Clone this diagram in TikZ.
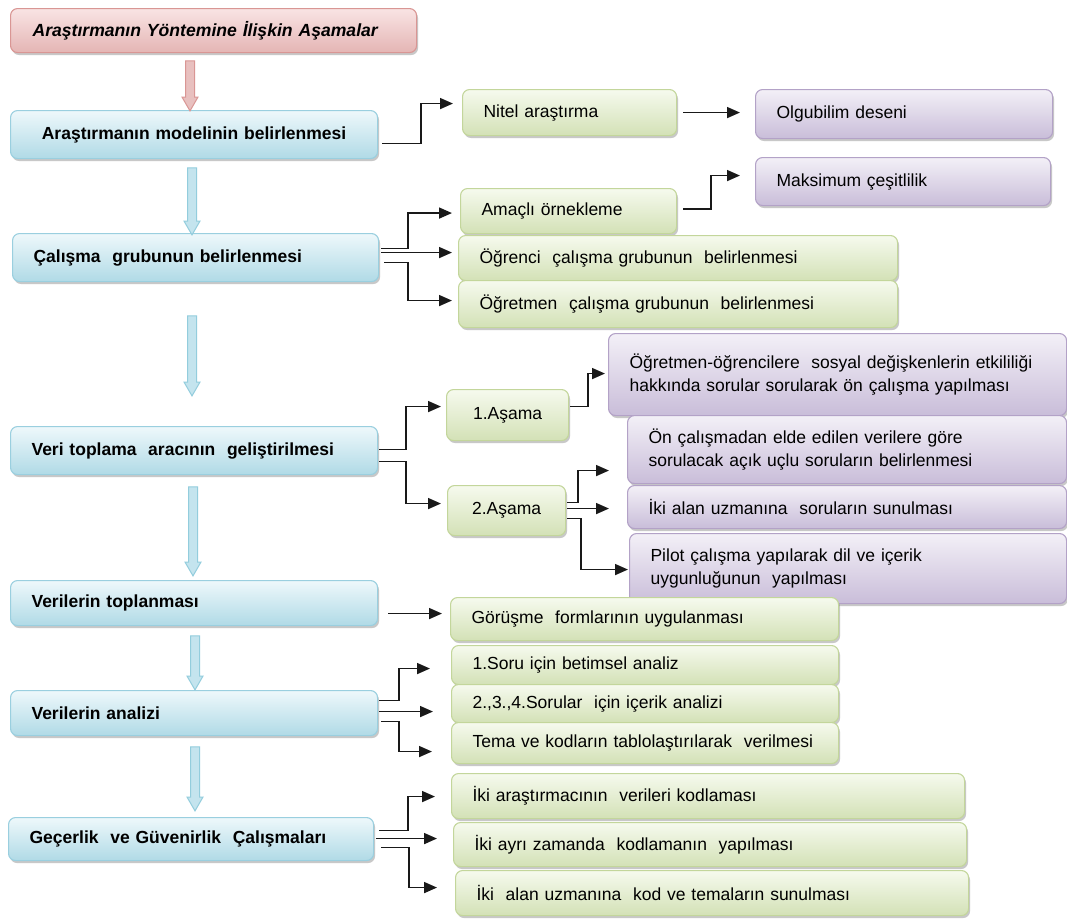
\documentclass[tikz,border=0pt]{standalone}
\usepackage{fontspec}
\setmainfont{Liberation Sans}
\usetikzlibrary{arrows.meta,shapes.arrows,shadows,calc}
\definecolor{btop}{HTML}{EEF8FB}
\definecolor{bbot}{HTML}{B0DAE6}
\definecolor{bbord}{HTML}{9ACFDF}
\definecolor{gtop}{HTML}{F6FAEE}
\definecolor{gbot}{HTML}{D3E1B6}
\definecolor{gbord}{HTML}{C3D69B}
\definecolor{ptop}{HTML}{F3F0F7}
\definecolor{pbot}{HTML}{C9BDD9}
\definecolor{pbord}{HTML}{B3A2C7}
\definecolor{rtop}{HTML}{F9E4E4}
\definecolor{rbot}{HTML}{E4B5B4}
\definecolor{rbord}{HTML}{D99694}
\definecolor{afill}{HTML}{C4E4EE}
\definecolor{abord}{HTML}{93CDDD}
\tikzset{
  box/.style={draw, rounded corners=7pt, line width=1.1pt, anchor=north west,
    inner xsep=21pt, inner ysep=0pt, align=left,
    font=\fontsize{17.5}{23}\selectfont,
    drop shadow={shadow xshift=1.5pt, shadow yshift=-2.5pt, opacity=0.3, fill=black!70}},
  gbox/.style={box, draw=gbord, top color=gtop, bottom color=gbot},
  pbox/.style={box, draw=pbord, top color=ptop, bottom color=pbot},
  bbox/.style={box, draw=bbord, top color=btop, bottom color=bbot, inner xsep=20pt,
    font=\fontsize{17.5}{23}\selectfont\bfseries},
  tbox/.style={box, draw=rbord, top color=rtop, bottom color=rbot, inner xsep=22pt,
    font=\fontsize{17.6}{23}\selectfont\bfseries\itshape},
  cen/.style={align=center},
  conn/.style={draw=black!90, line width=1.7pt, -{Triangle[length=13pt,width=11pt]}},
  harrow/.style={single arrow, rotate=-90, minimum width=15pt, inner xsep=0pt, inner ysep=4pt,
    single arrow head extend=3.5pt, single arrow tip angle=60, line width=1pt,
    draw=abord, fill=afill},
  parrow/.style={harrow, draw=rbord, fill=rbot!85},
}
\newcommand\mkbox[7]{%
  \pgfmathsetmacro\bw{#5-#3}\pgfmathsetmacro\bh{#6-#4}\pgfmathsetmacro\tw{#5-#3-42}%
  \node[#1, minimum width=\bw pt, minimum height=\bh pt, text width=\tw pt] (#2) at (#3,#4) {#7};}
\begin{document}
\begin{tikzpicture}[x=1pt,y=-1pt]
\useasboundingbox[fill=white] (0,0) rectangle (1067,918);
% main column
\mkbox{tbox}{title}{10}{8}{414}{52}{Araştırmanın Yöntemine İlişkin Aşamalar}
\mkbox{bbox,cen}{m1}{10}{110}{377}{158}{Araştırmanın modelinin belirlenmesi}
\mkbox{bbox}{m2}{12}{233}{378}{281}{Çalışma~ grubunun belirlenmesi}
\mkbox{bbox}{m3}{10}{426}{377}{474}{Veri toplama~ aracının~ geliştirilmesi}
\mkbox{bbox}{m4}{10}{580}{377}{625}{Verilerin toplanması}
\mkbox{bbox}{m5}{10}{690}{377}{735}{Verilerin analizi}
\mkbox{bbox}{m6}{8}{817}{373}{860}{Geçerlik~ ve Güvenirlik~ Çalışmaları}
% hollow arrows
\node[parrow, minimum height=50pt] (p0) at (190,82) {};
\node[harrow, minimum height=67pt] (a1) at (192,197.5) {};
\node[harrow, minimum height=80pt] (a2) at (192,352) {};
\node[harrow, minimum height=89pt] (a3) at (193,527.5) {};
\node[harrow, minimum height=54pt] (a4) at (195,659) {};
\node[harrow, minimum height=64pt] (a5) at (195,775) {};
% right boxes
\mkbox{gbox}{nitel}{462}{89}{676}{135}{Nitel araştırma}
\mkbox{pbox}{olgu}{755}{89}{1052}{138}{Olgubilim deseni}
\mkbox{pbox}{maks}{755}{157}{1050}{205}{Maksimum çeşitlilik}
\mkbox{gbox}{amacli}{460}{188}{676}{233}{Amaçlı örnekleme}
\mkbox{gbox}{ogrenci}{458}{235}{897}{280}{Öğrenci~ çalışma grubunun~ belirlenmesi}
\mkbox{gbox}{ogretmen}{458}{280}{897}{327}{Öğretmen~ çalışma grubunun~ belirlenmesi}
\mkbox{gbox,cen}{as1}{446}{389}{568}{440}{1.Aşama}
\mkbox{pbox}{ogrog}{608}{333}{1066}{415}{\mbox{Öğretmen-öğrencilere~ sosyal değişkenlerin etkililiği}\\\mbox{hakkında sorular sorularak ön çalışma yapılması}}
\mkbox{gbox,cen}{as2}{447}{485}{565}{535}{2.Aşama}
\mkbox{pbox}{on}{627}{415}{1066}{483}{\mbox{Ön çalışmadan elde edilen verilere göre}\\\mbox{sorulacak açık uçlu soruların belirlenmesi}}
\mkbox{pbox}{iki1}{627}{485}{1066}{528}{İki alan uzmanına~ soruların sunulması}
\mkbox{pbox}{pilot}{629}{533}{1066}{603}{\mbox{Pilot çalışma yapılarak dil ve içerik}\\\mbox{uygunluğunun~ yapılması}}
\mkbox{gbox}{gorusme}{450}{597}{838}{640}{Görüşme~ formlarının uygulanması}
\mkbox{gbox}{soru1}{451}{645}{838}{684}{1.Soru için betimsel analiz}
\mkbox{gbox}{soru2}{451}{684}{838}{722}{2.,3.,4.Sorular~ için içerik analizi}
\mkbox{gbox}{tema}{451}{722}{838}{763}{Tema ve kodların tablolaştırılarak~ verilmesi}
\mkbox{gbox}{ara}{451}{773}{964}{818}{İki araştırmacının~ verileri kodlaması}
\mkbox{gbox}{ayri}{453}{822}{966}{866}{İki ayrı zamanda~ kodlamanın~ yapılması}
\mkbox{gbox}{alan}{455}{870}{968}{915}{İki~ alan uzmanına~ kod ve temaların sunulması}
% connectors
\draw[conn] ($(m1.east)+(4,9)$) -- ++(39,0) |- ($(nitel.west)+(-9,-9)$);
\draw[conn] ($(nitel.east)+(6,0)$) -- ($(olgu.west |- nitel.east)+(-15,0)$);
\draw[conn] ($(amacli.east)+(6,-2)$) -- ++(28,0) |- ($(maks.west)+(-15,-6)$);
\draw[conn] ($(m2.east)+(2,-9)$) -- ++(27,0) |- ($(amacli.west)+(-8,2)$);
\draw[conn] ($(m2.east)+(2,-5)$) -- ($(ogrenci.west)+(-6,-5.5)$);
\draw[conn] ($(m2.east)+(5,5)$) -- ++(24,0) |- ($(ogretmen.west)+(-6,-3.5)$);
\draw[conn] ($(m3.east)+(1,-1)$) -- ++(27,0) |- ($(as1.west)+(-5,-8.5)$);
\draw[conn] ($(m3.east)+(1,11)$) -- ++(27,0) |- ($(as2.west)+(-6,-7)$);
\draw[conn] ($(as1.east)+(1,-8.5)$) -- ++(18,0) |- ($(ogrog.west)+(-3,-1)$);
\draw[conn] ($(as2.east)+(1,-8)$) -- ++(11,0) |- ($(on.west)+(-18,21)$);
\draw[conn] ($(as2.east)+(1,-2)$) -- ($(iki1.west)+(-18,1.5)$);
\draw[conn] ($(as2.east)+(1,8)$) -- ++(14,0) |- ($(pilot.west)+(-1,1)$);
\draw[conn] ($(m4.east)+(10,10.5)$) -- ($(gorusme.west)+(-8,-5.5)$);
\draw[conn] ($(m5.east)+(1,-12.5)$) -- ++(20,0) |- ($(soru1.west)+(-21,3.5)$);
\draw[conn] ($(m5.east)+(1,-1.5)$) -- ($(soru2.west)+(-18,8)$);
\draw[conn] ($(m5.east)+(3,8.5)$) -- ++(18,0) |- ($(tema.west)+(-19,8.5)$);
\draw[conn] ($(m6.east)+(5,-8.5)$) -- ++(29,0) |- ($(ara.west)+(-16,0.5)$);
\draw[conn] ($(m6.east)+(2,-0.5)$) -- ($(ayri.west)+(-16,-6)$);
\draw[conn] ($(m6.east)+(7,8.5)$) -- ++(28,0) |- ($(alan.west)+(-18,-5.5)$);
\end{tikzpicture}
\end{document}
